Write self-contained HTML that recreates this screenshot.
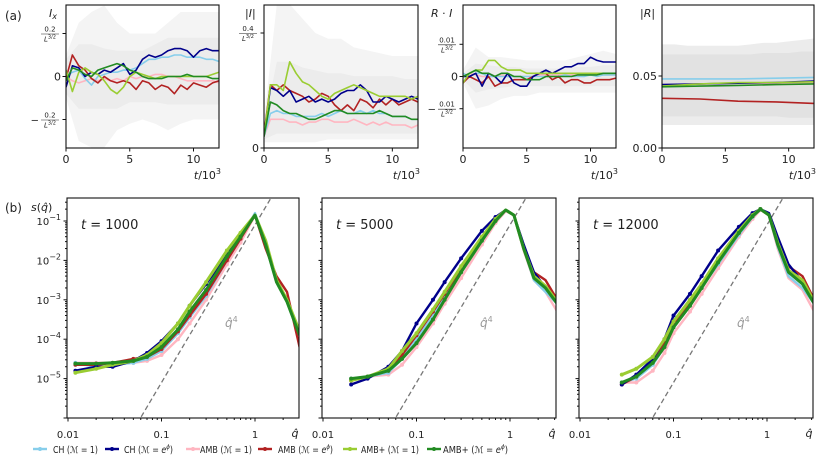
<!DOCTYPE html>
<html><head><meta charset="utf-8"><style>
body{margin:0;background:#fff;}
svg{display:block;font-family:"DejaVu Sans","Liberation Sans",sans-serif;}
</style></head><body>
<svg id="fig" width="831" height="460" viewBox="0 0 831 460"></svg>
<script>
const NS="http://www.w3.org/2000/svg";
const svg=document.getElementById('fig');
// ---------- data ----------
const seriesNames=["CH (M=1)","CH (M=e^phi)","AMB (M=1)","AMB (M=e^phi)","AMB+ (M=1)","AMB+ (M=e^phi)"];
const seriesColors=["#87ceeb","#00008b","#ffb6c1","#b22222","#9acd32","#228b22"];
const drawOrder=[2,0,3,1,4,5];
const tGrid=[0,0.5,1,1.5,2,2.5,3,3.5,4,4.5,5,5.5,6,6.5,7,7.5,8,8.5,9,9.5,10,10.5,11,11.5,12];
const bandT=[0,1,2,3,4,5,6,7,8,9,10,11,12];
// panel a1: I_x
const ix_sky=[0.0,0.02,0.03,-0.01,-0.04,0.0,0.01,0.02,0.02,0.03,0.03,0.04,0.06,0.08,0.08,0.09,0.09,0.1,0.1,0.09,0.09,0.09,0.08,0.08,0.07];
const ix_navy=[-0.05,0.05,0.04,0.0,0.02,0.01,0.03,0.02,0.04,0.06,0.01,0.03,0.08,0.1,0.09,0.1,0.12,0.13,0.13,0.12,0.09,0.12,0.13,0.12,0.12];
const ix_pink=[0.0,-0.02,-0.03,-0.02,-0.01,-0.02,-0.01,-0.02,-0.01,-0.02,0.0,-0.01,0.0,0.0,0.01,0.01,0.0,0.0,-0.01,-0.02,-0.02,-0.02,-0.02,-0.02,-0.03];
const ix_red=[-0.01,0.1,0.05,0.03,-0.01,-0.03,0.0,-0.02,-0.03,-0.02,-0.03,-0.06,-0.02,-0.03,-0.06,-0.04,-0.05,-0.08,-0.04,-0.06,-0.03,-0.04,-0.05,-0.03,-0.02];
const ix_ygreen=[0.03,-0.07,0.02,0.04,0.02,0.01,-0.02,-0.06,-0.08,-0.05,0.0,0.02,0.01,0.0,-0.01,0.0,0.0,0.0,0.0,0.0,0.0,0.0,0.0,0.01,0.02];
const ix_green=[-0.02,0.04,0.03,0.01,0.0,0.03,0.04,0.05,0.06,0.05,0.03,0.02,0.0,-0.01,-0.01,-0.01,0.0,0.0,0.0,0.01,0.0,0.0,0.0,-0.01,-0.01];
const ix_bandOutHi=[0.1,0.25,0.3,0.33,0.25,0.2,0.2,0.2,0.25,0.3,0.3,0.3,0.3];
const ix_bandOutLo=[-0.1,-0.3,-0.33,-0.33,-0.25,-0.22,-0.2,-0.22,-0.25,-0.22,-0.2,-0.2,-0.2];
const ix_bandInHi=[0.08,0.15,0.15,0.13,0.12,0.12,0.12,0.15,0.18,0.18,0.18,0.18,0.18];
const ix_bandInLo=[-0.08,-0.15,-0.15,-0.15,-0.15,-0.12,-0.12,-0.12,-0.13,-0.13,-0.13,-0.13,-0.13];
// panel a2: |I|
const ai_sky=[0.04,0.12,0.13,0.12,0.12,0.11,0.11,0.11,0.11,0.12,0.11,0.12,0.13,0.12,0.12,0.13,0.12,0.13,0.12,0.12,0.11,0.11,0.11,0.1,0.1];
const ai_navy=[0.04,0.21,0.2,0.18,0.2,0.16,0.17,0.18,0.16,0.17,0.16,0.17,0.19,0.2,0.2,0.22,0.2,0.16,0.16,0.18,0.17,0.16,0.17,0.18,0.17];
const ai_pink=[0.04,0.1,0.1,0.1,0.09,0.09,0.08,0.09,0.09,0.1,0.1,0.09,0.09,0.09,0.1,0.09,0.08,0.09,0.08,0.09,0.08,0.08,0.08,0.07,0.08];
const ai_red=[0.05,0.22,0.2,0.22,0.2,0.19,0.18,0.16,0.17,0.19,0.18,0.15,0.13,0.15,0.13,0.17,0.16,0.14,0.17,0.15,0.17,0.15,0.16,0.17,0.16];
const ai_ygreen=[0.04,0.22,0.22,0.2,0.3,0.26,0.23,0.22,0.2,0.18,0.17,0.19,0.2,0.21,0.22,0.21,0.2,0.19,0.18,0.18,0.18,0.18,0.18,0.17,0.18];
const ai_green=[0.04,0.16,0.15,0.13,0.12,0.12,0.11,0.1,0.1,0.11,0.12,0.13,0.13,0.12,0.12,0.12,0.12,0.12,0.13,0.12,0.11,0.11,0.11,0.1,0.1];
const ai_bandOutHi=[0.1,0.5,0.5,0.45,0.4,0.38,0.38,0.35,0.34,0.33,0.32,0.32,0.32];
const ai_bandOutLo=[0.02,0.02,0.02,0.02,0.02,0.03,0.03,0.03,0.03,0.03,0.03,0.03,0.03];
const ai_bandInHi=[0.08,0.3,0.3,0.28,0.27,0.26,0.26,0.25,0.25,0.25,0.25,0.24,0.24];
const ai_bandInLo=[0.03,0.05,0.05,0.05,0.05,0.05,0.05,0.05,0.05,0.05,0.05,0.05,0.05];
// panel a3: R.I (units of 0.01)
const ri_sky=[0.1,0.0,0.1,0.1,0.0,0.0,0.0,0.0,0.0,0.0,0.0,0.0,0.0,0.0,0.0,0.0,0.05,0.0,0.0,0.0,0.05,0.0,0.05,0.05,0.05];
const ri_navy=[0.0,0.0,0.1,-0.3,0.1,0.0,-0.2,0.1,-0.2,-0.3,-0.3,0.0,0.1,0.2,0.1,0.2,0.3,0.3,0.4,0.4,0.6,0.5,0.45,0.45,0.45];
const ri_pink=[0.0,0.1,0.05,0.0,0.0,0.0,0.05,0.0,0.0,0.0,0.0,0.0,0.05,0.05,0.05,0.05,0.05,0.05,0.05,0.05,0.05,0.05,0.05,0.05,0.05];
const ri_red=[-0.2,0.0,-0.1,-0.2,0.0,-0.3,-0.2,-0.2,-0.1,-0.1,-0.1,0.0,0.1,0.1,-0.1,0.0,-0.2,-0.1,-0.1,-0.2,-0.2,-0.1,-0.1,-0.1,-0.05];
const ri_ygreen=[-0.2,0.1,0.2,0.2,0.5,0.5,0.3,0.2,0.2,0.2,0.1,0.1,0.1,0.1,0.1,0.1,0.1,0.1,0.1,0.1,0.1,0.1,0.1,0.1,0.1];
const ri_green=[0.0,0.1,0.2,0.1,0.1,0.0,0.1,0.1,0.0,0.0,-0.1,-0.1,-0.1,0.0,0.0,0.0,0.0,0.0,0.05,0.05,0.05,0.05,0.1,0.1,0.1];
const ri_bandOutHi=[0.2,0.9,0.6,0.6,0.55,0.5,0.5,0.5,0.5,0.6,0.7,0.8,0.7];
const ri_bandOutLo=[-0.2,-1.0,-0.9,-0.7,-0.6,-0.6,-0.5,-0.5,-0.5,-0.5,-0.5,-0.5,-0.5];
const ri_bandInHi=[0.1,0.4,0.35,0.3,0.3,0.25,0.25,0.25,0.25,0.3,0.3,0.35,0.35];
const ri_bandInLo=[-0.1,-0.5,-0.4,-0.35,-0.3,-0.3,-0.3,-0.3,-0.3,-0.3,-0.3,-0.3,-0.3];
// panel a4: |R|
const rT=[0,3,6,9,12];
const ar_sky=[0.048,0.048,0.048,0.0485,0.049];
const ar_navy=[0.044,0.0445,0.045,0.0455,0.0465];
const ar_pink=[0.044,0.0445,0.045,0.045,0.045];
const ar_red=[0.0345,0.034,0.0325,0.032,0.031];
const ar_ygreen=[0.043,0.0445,0.0455,0.0455,0.046];
const ar_green=[0.0425,0.043,0.0435,0.044,0.0445];
const ar_bandOutHi=[0.072,0.072,0.071,0.071,0.071,0.071,0.071,0.072,0.073,0.073,0.074,0.075,0.076];
const ar_bandOutLo=[0.016,0.016,0.016,0.016,0.016,0.016,0.016,0.016,0.016,0.016,0.016,0.016,0.016];
const ar_bandInHi=[0.065,0.065,0.065,0.065,0.065,0.065,0.065,0.065,0.066,0.066,0.066,0.067,0.067];
const ar_bandInLo=[0.022,0.022,0.022,0.022,0.022,0.022,0.022,0.022,0.022,0.022,0.021,0.021,0.021];
// spectra (log10 s)
const q1=[0.012,0.02,0.03,0.05,0.07,0.1,0.15,0.2,0.3,0.5,0.7,1.0,1.3,1.7,2.2,3.0];
const s1_sky=[-4.6,-4.7,-4.65,-4.6,-4.5,-4.3,-3.85,-3.45,-2.9,-2.0,-1.45,-0.8,-1.6,-2.55,-3.05,-3.9];
const s1_navy=[-4.8,-4.7,-4.7,-4.55,-4.35,-4.05,-3.6,-3.15,-2.6,-1.85,-1.35,-0.85,-1.6,-2.55,-3.05,-3.9];
const s1_pink=[-4.6,-4.6,-4.6,-4.6,-4.55,-4.4,-4.0,-3.6,-3.0,-2.1,-1.55,-0.85,-1.6,-2.55,-3.05,-3.9];
const s1_red=[-4.65,-4.65,-4.6,-4.5,-4.45,-4.25,-3.8,-3.4,-2.85,-2.0,-1.45,-0.85,-1.7,-2.4,-2.8,-4.2];
const s1_ygreen=[-4.85,-4.75,-4.65,-4.55,-4.4,-4.1,-3.6,-3.15,-2.55,-1.75,-1.3,-0.85,-1.5,-2.5,-3.0,-3.8];
const s1_green=[-4.62,-4.62,-4.6,-4.55,-4.45,-4.2,-3.75,-3.3,-2.75,-1.9,-1.4,-0.85,-1.6,-2.55,-3.05,-3.9];
const q2=[0.02,0.03,0.05,0.07,0.1,0.15,0.2,0.3,0.5,0.7,0.9,1.1,1.4,1.8,2.4,3.2];
const s2_sky=[-5.0,-4.95,-4.85,-4.5,-4.0,-3.4,-2.95,-2.3,-1.5,-1.0,-0.72,-0.85,-1.7,-2.5,-2.8,-3.1];
const s2_navy=[-5.15,-5.0,-4.7,-4.3,-3.6,-3.0,-2.55,-1.95,-1.25,-0.9,-0.72,-0.85,-1.6,-2.3,-2.7,-3.1];
const s2_pink=[-5.0,-4.95,-4.9,-4.65,-4.2,-3.6,-3.1,-2.45,-1.6,-1.05,-0.75,-0.85,-1.75,-2.5,-2.8,-3.3];
const s2_red=[-5.05,-4.95,-4.8,-4.4,-3.9,-3.3,-2.85,-2.2,-1.45,-0.95,-0.72,-0.85,-1.7,-2.3,-2.5,-3.0];
const s2_ygreen=[-5.05,-4.95,-4.75,-4.3,-3.85,-3.25,-2.8,-2.15,-1.4,-0.95,-0.72,-0.85,-1.7,-2.4,-2.65,-3.05];
const s2_green=[-5.0,-4.95,-4.8,-4.5,-4.1,-3.5,-3.0,-2.3,-1.5,-1.0,-0.72,-0.85,-1.7,-2.45,-2.7,-3.1];
const q3=[0.028,0.04,0.06,0.08,0.1,0.15,0.2,0.3,0.5,0.7,0.85,1.05,1.3,1.7,2.4,3.2];
const s3_sky=[-5.1,-5.0,-4.65,-4.2,-3.7,-3.15,-2.7,-2.1,-1.35,-0.9,-0.7,-0.85,-1.65,-2.4,-2.7,-3.1];
const s3_navy=[-5.15,-4.9,-4.5,-4.0,-3.4,-2.85,-2.4,-1.75,-1.15,-0.8,-0.7,-0.8,-1.4,-2.1,-2.55,-3.1];
const s3_pink=[-5.1,-5.1,-4.8,-4.35,-3.85,-3.3,-2.85,-2.2,-1.4,-0.95,-0.72,-0.85,-1.7,-2.45,-2.75,-3.3];
const s3_red=[-5.15,-4.95,-4.55,-4.1,-3.6,-3.05,-2.65,-2.0,-1.3,-0.88,-0.7,-0.85,-1.6,-2.15,-2.4,-3.0];
const s3_ygreen=[-4.9,-4.75,-4.45,-4.0,-3.55,-3.0,-2.6,-1.95,-1.25,-0.85,-0.7,-0.85,-1.55,-2.25,-2.5,-3.05];
const s3_green=[-5.1,-4.95,-4.6,-4.2,-3.7,-3.15,-2.7,-2.05,-1.3,-0.88,-0.7,-0.85,-1.6,-2.3,-2.6,-3.1];
const spectrumTimes=["1000","5000","12000"];
const yDecadeLabels=["−1","−2","−3","−4","−5"];
const xLogLabels=["0.01","0.1","1"];
const q4LogPrefactor=-1.1;

// ---------- helpers ----------
function el(tag,attrs,parent){const e=document.createElementNS(NS,tag);for(const k in attrs)e.setAttribute(k,attrs[k]);(parent||svg).appendChild(e);return e;}
function txt(x,y,s,size,anchor,parent,extra){const t=el('text',Object.assign({x:x,y:y,'font-size':size,'text-anchor':anchor||'start',fill:'#222'},extra||{}),parent);t.innerHTML=s;return t;}

// ---------- top panels ----------
const tops=[
 {x0:66,x1:219,yTop:5,yBot:148,vmin:-0.3326,vmax:0.3326,series:[ix_sky,ix_navy,ix_pink,ix_red,ix_ygreen,ix_green],t:tGrid,band:[ix_bandOutHi,ix_bandOutLo,ix_bandInHi,ix_bandInLo],name:'panel-ix',label:'<tspan font-style="italic">I</tspan><tspan font-style="italic" font-size="8" dy="2">x</tspan>',lx:49,ticks:[[-0.2,'−'],[0,'0'],[0.2,'']],frac:'0.2',dark:false},
 {x0:264,x1:418,yTop:5,yBot:148,vmin:0,vmax:0.4974,series:[ai_sky,ai_navy,ai_pink,ai_red,ai_ygreen,ai_green],t:tGrid,band:[ai_bandOutHi,ai_bandOutLo,ai_bandInHi,ai_bandInLo],name:'panel-abs-i',label:'|<tspan font-style="italic">I</tspan>|',lx:245,ticks:[[0,'0'],[0.4,'']],frac:'0.4',dark:false},
 {x0:463,x1:616,yTop:5,yBot:148,vmin:-2.22,vmax:2.22,series:[ri_sky,ri_navy,ri_pink,ri_red,ri_ygreen,ri_green],t:tGrid,band:[ri_bandOutHi,ri_bandOutLo,ri_bandInHi,ri_bandInLo],name:'panel-r-dot-i',label:'<tspan font-style="italic">R</tspan> · <tspan font-style="italic">I</tspan>',lx:431,ticks:[[-1,'−'],[0,'0'],[1,'']],frac:'0.01',dark:false},
 {x0:662,x1:814,yTop:5,yBot:148,vmin:0,vmax:0.0993,series:[ar_sky,ar_navy,ar_pink,ar_red,ar_ygreen,ar_green],t:rT,band:[ar_bandOutHi,ar_bandOutLo,ar_bandInHi,ar_bandInLo],name:'panel-abs-r',label:'|<tspan font-style="italic">R</tspan>|',lx:640,ticks:[[0,'0.00'],[0.05,'0.05']],frac:null,dark:true}
];
txt(5,20,'(a)',12,'start',svg,{});
txt(5,212,'(b)',12,'start',svg,{});

tops.forEach(p=>{
  const g=el('g',{});
  
  
  const xs=t=>p.x0+(t/12)*(p.x1-p.x0);
  const ys=v=>p.yBot-(v-p.vmin)/(p.vmax-p.vmin)*(p.yBot-p.yTop);
  const cp=el('clipPath',{id:'c'+p.name},g);el('rect',{x:p.x0,y:p.yTop,width:p.x1-p.x0,height:p.yBot-p.yTop},cp);
  const pg=el('g',{'clip-path':'url(#c'+p.name+')'},g);
  const bandPoly=(hi,lo,fill)=>{let pts=bandT.map((t,i)=>xs(t)+','+ys(hi[i]));pts=pts.concat(bandT.slice().reverse().map((t,i)=>xs(t)+','+ys(lo[bandT.length-1-i])));const b=el('polygon',{points:pts.join(' '),fill:fill},pg);};
  bandPoly(p.band[0],p.band[1],p.dark?'#ececec':'#f4f4f4');
  bandPoly(p.band[2],p.band[3],p.dark?'#e2e2e2':'#ececec');
  drawOrder.forEach(si=>{
    const d=p.series[si].map((v,i)=>(i?'L':'M')+xs(p.t[i]).toFixed(1)+','+ys(v).toFixed(1)).join('');
    const l=el('path',{d:d,fill:'none',stroke:seriesColors[si],'stroke-width':1.6,'stroke-linejoin':'round'},pg);
    
    
  });
  el('rect',{x:p.x0,y:p.yTop,width:p.x1-p.x0,height:p.yBot-p.yTop,fill:'none',stroke:'#111','stroke-width':1.1},g);
  [0,5,10].forEach(t=>{el('line',{x1:xs(t),x2:xs(t),y1:p.yBot,y2:p.yBot+3.5,stroke:'#111'},g);txt(xs(t),p.yBot+15,String(t),11,'middle',g);});
  txt(p.x1+2,p.yBot+31,'<tspan font-style="italic">t</tspan>/10<tspan font-size="8" dy="-5">3</tspan>',11,'end',g);
  p.ticks.forEach(tk=>{
    const y=ys(tk[0]);el('line',{x1:p.x0-3.5,x2:p.x0,y1:y,y2:y,stroke:'#111'},g);
    if(tk[1]==='0'||tk[1].indexOf('.')>0){txt(p.x0-5,y+4,tk[1],11,'end',g);}
    else{const cx=p.x0-16; txt(cx,y-2,p.frac,7,'middle',g);el('line',{x1:cx-9,x2:cx+9,y1:y+0.5,y2:y+0.5,stroke:'#222','stroke-width':0.6},g);txt(cx,y+8,'<tspan font-style="italic">L</tspan><tspan font-size="5" dy="-3">3/2</tspan>',7,'middle',g);
      if(tk[1]==='−')txt(cx-11,y+4,'−',10,'end',g);}
  });
  txt(p.lx,17,p.label,11,'start',g);
});

// ---------- bottom panels ----------
const bots=[
 {x0:67,x1:299,yTop:198,yBot:418,qmin:0.01,q:q1,s:[s1_sky,s1_navy,s1_pink,s1_red,s1_ygreen,s1_green],labels:true},
 {x0:322,x1:556,yTop:198,yBot:418,qmin:0.01,q:q2,s:[s2_sky,s2_navy,s2_pink,s2_red,s2_ygreen,s2_green],labels:false},
 {x0:579,x1:813,yTop:198,yBot:418,qmin:0.01,q:q3,s:[s3_sky,s3_navy,s3_pink,s3_red,s3_ygreen,s3_green],labels:false}
];
const DEC=93.5, YDEC=39.4;
bots.forEach((p,pi)=>{
  const g=el('g',{});
  
  
  const xs=q=>p.x0+1+Math.log10(q/p.qmin)*DEC;
  const ys=l=>p.yBot-(l+6)*YDEC;
  const cp=el('clipPath',{id:'cb'+pi},g);el('rect',{x:p.x0,y:p.yTop,width:p.x1-p.x0,height:p.yBot-p.yTop},cp);
  const pg=el('g',{'clip-path':'url(#cb'+pi+')'},g);
  const qa=0.03,qb=3.5;
  const dl=el('line',{x1:xs(qa),y1:ys(q4LogPrefactor+4*Math.log10(qa)),x2:xs(qb),y2:ys(q4LogPrefactor+4*Math.log10(qb)),stroke:'#777','stroke-width':1.3,'stroke-dasharray':'5,3'},pg);
  
  
  drawOrder.forEach(si=>{
    const d=p.s[si].map((v,i)=>(i?'L':'M')+xs(p.q[i]).toFixed(1)+','+ys(v).toFixed(1)).join('');
    const w=(si===5||si===4)?3:2.4;
    const l=el('path',{d:d,fill:'none',stroke:seriesColors[si],'stroke-width':w,'stroke-linejoin':'round'},pg);
    
    
    p.s[si].forEach((v,i)=>{if(p.q[i]<0.9){const c=el('circle',{cx:xs(p.q[i]),cy:ys(v),r:2,fill:seriesColors[si]},pg);
      
      }});
  });
  el('rect',{x:p.x0,y:p.yTop,width:p.x1-p.x0,height:p.yBot-p.yTop,fill:'none',stroke:'#111','stroke-width':1.1},g);
  for(let e=-2;e<=0;e++){for(let m=1;m<=9;m++){const q=m*Math.pow(10,e);const x=xs(q);if(x>p.x1)continue;
    el('line',{x1:x,x2:x,y1:p.yBot,y2:p.yBot+(m===1?3.5:2),stroke:'#111'},g);}}
  xLogLabels.forEach((s,i)=>txt(xs(0.01*Math.pow(10,i)),p.yBot+20,s,10,'middle',g));
  txt(p.x1-4,p.yBot+19,'<tspan font-style="italic">q̂</tspan>',11,'middle',g);
  for(let e=-6;e<=-1;e++){for(let m=1;m<=9;m++){const l=e+Math.log10(m);const y=ys(l);if(y<p.yTop||y>p.yBot)continue;
    el('line',{x1:p.x0-(m===1?3.5:2),x2:p.x0,y1:y,y2:y,stroke:'#111'},g);}}
  if(p.labels){yDecadeLabels.forEach((s,i)=>txt(p.x0-6,ys(-1-i)+4,'10<tspan font-size="8" dy="-5">'+s+'</tspan>',10,'end',g));
    txt(31,211,'<tspan font-style="italic">s</tspan>(<tspan font-style="italic">q̂</tspan>)',11,'start',g);}
  txt(p.x0+14,229,'<tspan font-style="italic">t</tspan> = '+spectrumTimes[pi],13,'start',g);
  txt(p.x0+158,327,'<tspan font-style="italic">q̂</tspan><tspan font-size="8" dy="-5">4</tspan>',12,'start',g,{fill:'#999'});
});

// ---------- legend ----------
const legX=[33,105,186,258,343,427];
const legTextX=[53,124,200,278,361,443];
const legLen=[45,49,52,55,58,65];
const legLab=['CH (','CH (','AMB (','AMB (','AMB+ (','AMB+ ('];
const EPHI='<tspan font-style="italic">e</tspan><tspan font-size="6.5" dy="-4" font-style="italic">ϕ</tspan><tspan dy="4">)</tspan>';
const legM=['1)',EPHI,'1)',EPHI,'1)',EPHI];
legX.forEach((x,i)=>{
  const g=el('g',{});
  
  
  el('line',{x1:x,x2:x+14,y1:449,y2:449,stroke:seriesColors[i],'stroke-width':2.4},g);
  el('circle',{cx:x+7,cy:449,r:2,fill:seriesColors[i]},g);
  txt(legTextX[i],453,legLab[i]+'<tspan font-style="italic">ℳ</tspan> = '+legM[i],9.5,'start',g,{textLength:legLen[i],lengthAdjust:'spacingAndGlyphs'});
});
</script>
</body></html>
